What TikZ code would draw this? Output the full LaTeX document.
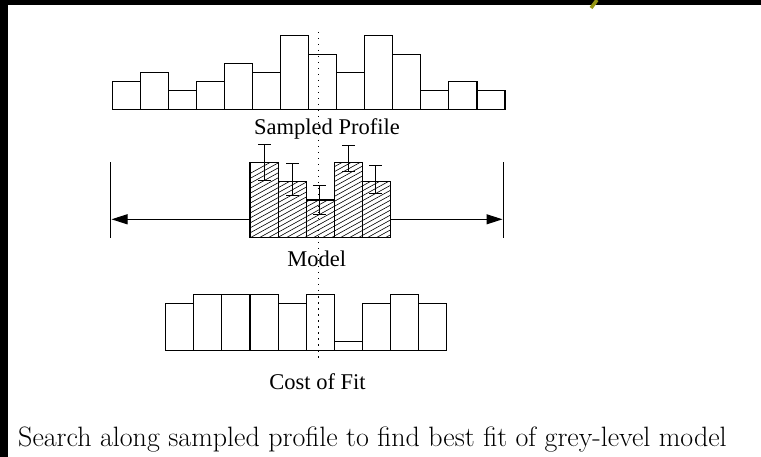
\documentclass[tikz,border=0pt]{standalone}
\usepackage{fontspec}
\newfontfamily\labelfont{Liberation Serif}
\usetikzlibrary{arrows.meta}
\definecolor{slidegold}{RGB}{150,150,20}

\begin{document}
\begin{tikzpicture}[x=1pt, y=-1pt, >={Triangle[length=16pt,width=10pt]},
        bin/.style={draw, line width=1.1pt, fill=white},
        lbl/.style={font=\labelfont\fontsize{22.5}{26}\selectfont, anchor=base, inner sep=0pt}]
        \useasboundingbox (0,0) rectangle (761,457);
        \fill [black] (0,0) rectangle (761,5);
        \fill [black] (0,0) rectangle (7.5,457);
        \draw [slidegold, line width=3.5pt] (597,0) -- (591,8);

        % sampled profile
        \foreach \h [count=\i from 0] in {3,4,2,3,5,4,8,6,4,8,6,2,3,2}
            \draw [bin] ({112.3+28.05*\i},109.3) rectangle ++(28.05,{-9.2*\h});
        \node [lbl] (profile) at (327,135) {Sampled Profile};

        % model with hatching
        \begin{scope}
            \clip (250,237.7) rectangle (278.1,162.3) (278.1,237.7) rectangle (306.2,181.7)
                  (306.2,237.7) rectangle (334.3,200) (334.3,237.7) rectangle (362.4,162.3)
                  (362.4,237.7) rectangle (390.5,181.7);
            \foreach \x in {120,129,...,400}
                \draw [line width=0.6pt] (\x,245) -- ++(200,-110);
        \end{scope}
        \foreach \h [count=\i from 0] in {4,3,2,4,3}
            \draw [line width=1.1pt] ({250+28.1*\i},237.7) rectangle ++(28.1,{-18.85*\h});
        \foreach \x/\a/\b in {264.3/144.7/181, 292.7/163.3/196, 319.3/185.7/214.3, 348.3/145.3/171.7, 375.7/166/193.3}
            \draw [line width=1pt] ({\x-6.3},\a) -- ({\x+6.3},\a) (\x,\a) -- (\x,\b) ({\x-6.3},\b) -- ({\x+6.3},\b);

        % search range
        \draw [line width=0.9pt] (110.7,162.3) -- (110.7,237.7);
        \draw [line width=0.9pt] (503.3,162.3) -- (503.3,237.7);
        \coordinate (leftstop) at (111.5,219.3);
        \coordinate (rightstop) at (502.5,219.3);
        \coordinate (modelL) at (250,219.3);
        \coordinate (modelR) at (390.5,219.3);
        \draw [->, line width=1pt] (modelL) -- (leftstop);
        \draw [->, line width=1pt] (modelR) -- (rightstop);
        \node [lbl] (model) at (316.7,266.5) {Model};

        % cost of fit
        \foreach \h [count=\i from 0] in {5,6,6,6,5,6,1,5,6,5}
            \draw [bin] ({165.7+28.1*\i},350.7) rectangle ++(28.1,{-9.4*\h});
        \node [lbl] (cost) at (317.5,389) {Cost of Fit};

        \draw [line width=1pt, dash pattern=on 1.5pt off 4.5pt] (318.7,32) -- (318.7,358);

        \node [anchor=base west, inner sep=0pt, font=\fontsize{28}{32}\selectfont] (caption) at (18,446)
            {Search along sampled profile to find best fit of grey-level model};
    \end{tikzpicture}
\end{document}
